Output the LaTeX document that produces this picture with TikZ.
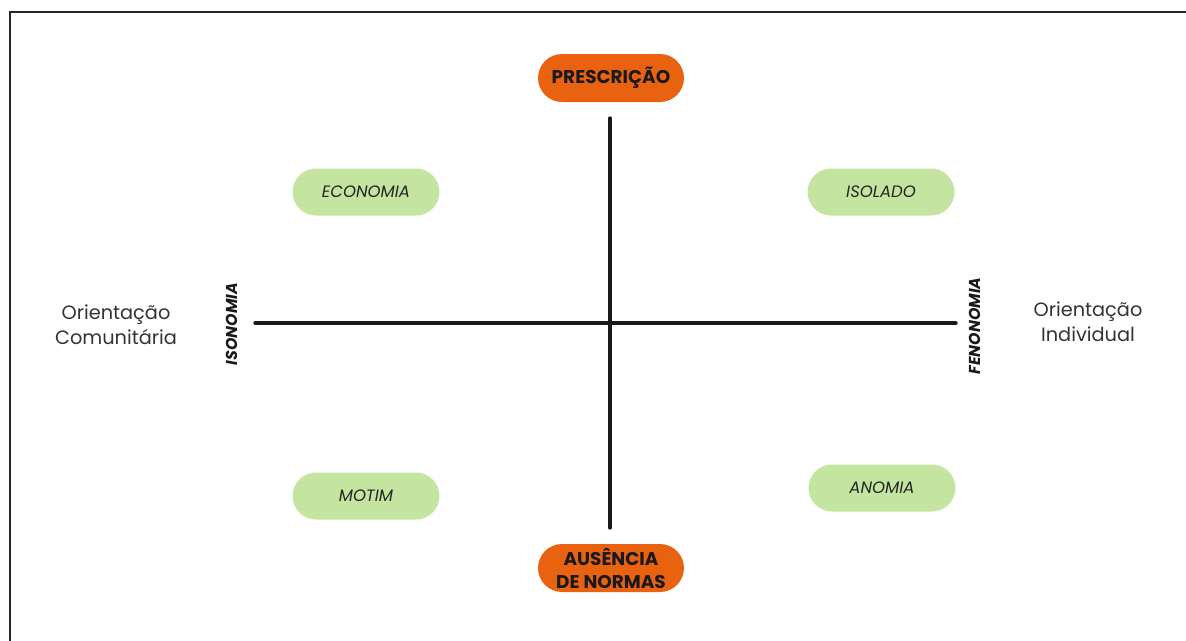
\documentclass[tikz,border=0pt]{standalone}
\usepackage{fontspec}
\setmainfont{Poppins}
\usetikzlibrary{positioning}
\definecolor{normorange}{HTML}{E8620F}
\definecolor{quadgreen}{HTML}{C3E5A0}

\begin{document}
\begin{tikzpicture}[x=0.02cm,y=-0.02cm,line cap=round,
  pole/.style={fill=normorange,rounded corners=0.48cm,minimum width=2.92cm,minimum height=0.96cm,inner sep=0pt,align=center,text=black!90,font=\fontsize{10.5}{13}\selectfont\bfseries},
  quad/.style={fill=quadgreen,rounded corners=0.47cm,minimum width=2.94cm,minimum height=0.94cm,inner sep=0pt,text=black!85,font=\fontsize{9.4}{10}\selectfont\itshape},
  tip/.style={rotate=90,inner sep=0pt,text=black!90,font=\fontsize{9}{10}\selectfont\bfseries\itshape},
  side/.style={align=center,inner sep=0pt,text=black!80,font=\fontsize{11}{14}\selectfont},
  axis/.style={line width=1.9pt,black!90}]
\useasboundingbox (0,0) rectangle (1186,640);
\draw[line width=1.2pt,black!85] (1200,12) -- (10,12) -- (10,660);
\node[pole] (presc) at (611,78) {PRESCRIÇÃO};
\node[pole] (ausen) at (611,568) {AUSÊNCIA\\DE NORMAS};
\node[quad] (econ) at (366,192) {ECONOMIA};
\node[quad] (isol) at (881,192) {ISOLADO};
\node[quad] (motim) at (366,496) {MOTIM};
\node[quad] (anom) at (882,488) {ANOMIA};
\node[tip] (ison) at (232,324) {ISONOMIA};
\node[tip] (fenon) at (975,326) {FENONOMIA};
\node[side] (comun) at (116,325) {Orientação\\Comunitária};
\node[side] (indiv) at (1088,322) {Orientação\\Individual};
\coordinate (vtop) at (610,118);
\coordinate (vbot) at (610,528);
\coordinate (hleft) at (255,323);
\coordinate (hright) at (956,323);
\draw[axis] (vtop) -- (vbot);
\draw[axis] (hleft) -- (hright);
\end{tikzpicture}
\end{document}
